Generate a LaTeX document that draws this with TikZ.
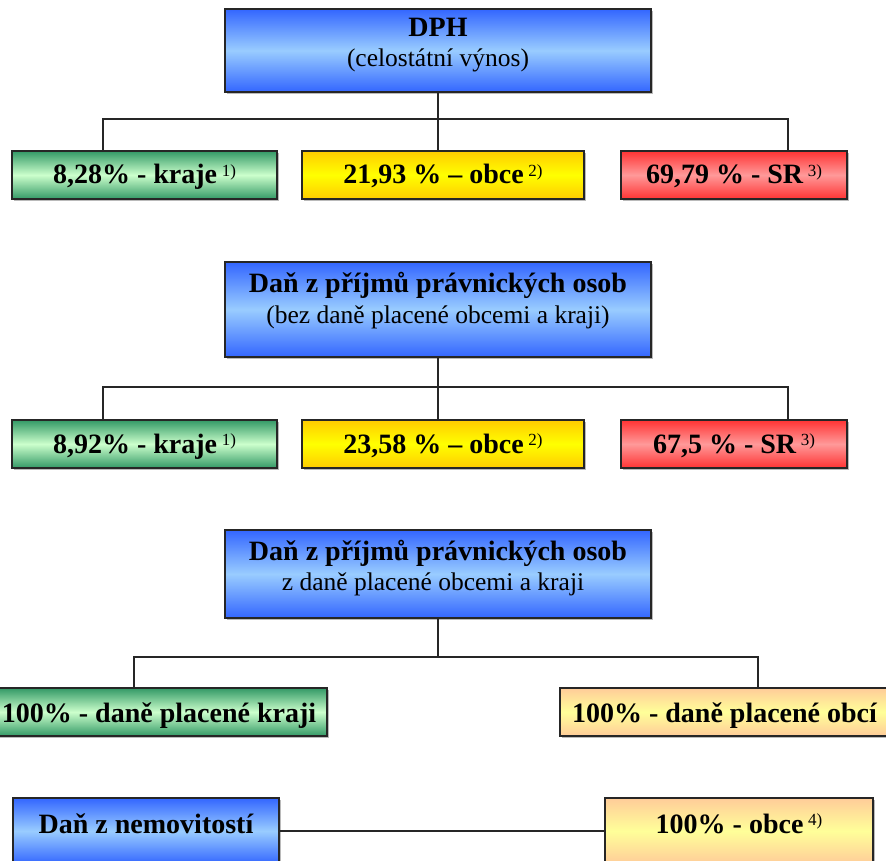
\documentclass[tikz,border=0pt]{standalone}
\usepackage{fontspec}
\setmainfont{Liberation Serif}
\usetikzlibrary{shadows}
\definecolor{bdark}{HTML}{3366FF}
\definecolor{blight}{HTML}{99CCFF}
\definecolor{gdark}{HTML}{339966}
\definecolor{glight}{HTML}{CCFFCC}
\definecolor{ydark}{HTML}{FFCC00}
\definecolor{ylight}{HTML}{FFFF00}
\definecolor{rdark}{HTML}{FF3333}
\definecolor{rlight}{HTML}{FF9999}
\definecolor{odark}{HTML}{FFCC99}
\definecolor{olight}{HTML}{FFFF99}
\tikzset{
  box/.style={rectangle, draw=black!85, line width=1.1pt, inner sep=0pt,
    drop shadow={shadow xshift=1.6pt, shadow yshift=-1.6pt, fill=black!45, opacity=0.6}},
  bluebox/.style={box, top color=bdark, bottom color=bdark, middle color=blight},
  greenbox/.style={box, top color=gdark, bottom color=gdark, middle color=glight},
  yellowbox/.style={box, top color=ydark, bottom color=ydark, middle color=ylight},
  redbox/.style={box, top color=rdark, bottom color=rdark, middle color=rlight},
  orangebox/.style={box, top color=odark, bottom color=odark, middle color=olight},
  bt/.style={font=\fontsize{28}{30}\selectfont\bfseries, anchor=base, inner sep=0pt},
  rt/.style={font=\fontsize{25.5}{30}\selectfont, anchor=base, inner sep=0pt},
  conn/.style={draw=black!85, line width=1.1pt},
}
\newcommand{\fnote}[1]{\,{\fontsize{17}{17}\selectfont\mdseries\raisebox{7.5pt}{#1}}}
\begin{document}
\begin{tikzpicture}[x=1pt, y=-1pt]
\useasboundingbox (0,0) rectangle (886,861);
\clip (0,0) rectangle (886,861);

% ---------- Row 1: DPH ----------
\node[bluebox, minimum width=426, minimum height=83] (dph) at (438,50.5) {};
\node[bt] (dphT) at (438,37) {DPH};
\node[rt] (dphS) at (438,67) {(celostátní výnos)};
\node[greenbox, minimum width=265, minimum height=48] (g1) at (144.5,175) {};
\node[yellowbox, minimum width=282, minimum height=48] (y1) at (443,175) {};
\node[redbox, minimum width=226, minimum height=48] (r1) at (734,175) {};
\node[bt] (g1T) at (144.5,184) {8,28\% - kraje\fnote{1)}};
\node[bt] (y1T) at (443,184) {21,93 \% – obce\fnote{2)}};
\node[bt] (r1T) at (734,184) {69,79 \% - SR\fnote{3)}};
\coordinate (b1l) at (103,119);
\coordinate (b1r) at (788,119);
\draw[conn] (dph.south) -- (dph.south |- y1.north);
\draw[conn] (b1l |- g1.north) -- (b1l) -- (b1r) -- (b1r |- r1.north);

% ---------- Row 2: DPPO ----------
\node[bluebox, minimum width=426, minimum height=95] (p2) at (438,309.5) {};
\node[bt] (p2T) at (438,292) {Daň z příjmů právnických osob};
\node[rt] (p2S) at (438,323) {(bez daně placené obcemi a kraji)};
\node[greenbox, minimum width=265, minimum height=48] (g2) at (144.5,444) {};
\node[yellowbox, minimum width=282, minimum height=48] (y2) at (443,444) {};
\node[redbox, minimum width=226, minimum height=48] (r2) at (734,444) {};
\node[bt] (g2T) at (144.5,453) {8,92\% - kraje\fnote{1)}};
\node[bt] (y2T) at (443,453) {23,58 \% – obce\fnote{2)}};
\node[bt] (r2T) at (734,453) {67,5 \% - SR\fnote{3)}};
\coordinate (b2l) at (103,387);
\coordinate (b2r) at (788,387);
\draw[conn] (p2.south) -- (p2.south |- y2.north);
\draw[conn] (b2l |- g2.north) -- (b2l) -- (b2r) -- (b2r |- r2.north);

% ---------- Row 3: DPPO placene obcemi a kraji ----------
\node[bluebox, minimum width=426, minimum height=88] (p3) at (438,574) {};
\node[bt] (p3T) at (438,560) {Daň z příjmů právnických osob};
\node[rt] (p3S) at (433,590) {z daně placené obcemi a kraji};
\node[greenbox, minimum width=352, minimum height=48] (g3) at (151,712) {};
\node[orangebox, minimum width=329, minimum height=48] (o3) at (724.5,712) {};
\node[bt] (g3T) at (159,722) {100\% - daně placené kraji};
\node[bt] (o3T) at (724.5,722) {100\% - daně placené obcí};
\coordinate (b3m) at (438,657);
\coordinate (b3l) at (134,657);
\coordinate (b3r) at (758,657);
\draw[conn] (p3.south) -- (b3m);
\draw[conn] (b3l |- g3.north) -- (b3l) -- (b3r) -- (b3r |- o3.north);

% ---------- Row 4: Dan z nemovitosti ----------
\node[bluebox, minimum width=266, minimum height=66] (n4) at (146,831) {};
\node[orangebox, minimum width=268, minimum height=66] (o4) at (739,831) {};
\node[bt] (n4T) at (146,833) {Daň z nemovitostí};
\node[bt] (o4T) at (739,833) {100\% - obce\fnote{4)}};
\draw[conn] (n4.east) -- (o4.west);
\end{tikzpicture}
\end{document}
